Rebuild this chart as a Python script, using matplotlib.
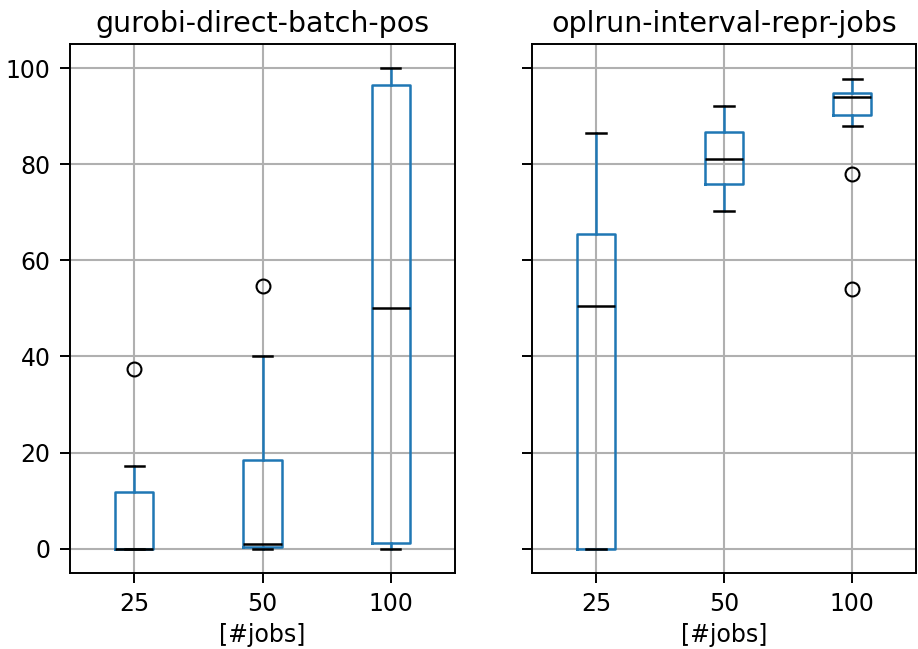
import matplotlib
matplotlib.use("Agg")
import matplotlib.pyplot as plt

# values (percent)
jobs = ["25", "50", "100"]
panels = ["gurobi-direct-batch-pos", "oplrun-interval-repr-jobs"]

# per panel: whisker low, q1, median, q3, whisker high, outliers
gurobi_wlo = [0.0, 0.0, 0.0]
gurobi_q1 = [0.0, 0.3, 1.2]
gurobi_med = [0.0, 0.9, 50.0]
gurobi_q3 = [11.7, 18.4, 96.5]
gurobi_whi = [17.2, 40.0, 100.0]
gurobi_fliers = [[37.3], [54.6], []]

oplrun_wlo = [0.0, 70.2, 88.0]
oplrun_q1 = [0.0, 75.8, 90.3]
oplrun_med = [50.4, 81.0, 94.0]
oplrun_q3 = [65.4, 86.7, 94.9]
oplrun_whi = [86.4, 92.0, 97.7]
oplrun_fliers = [[], [], [77.9, 54.0]]

yticks = [0, 20, 40, 60, 80, 100]


def make_stats(wlo, q1, med, q3, whi, fliers):
    return [
        {"whislo": a, "q1": b, "med": c, "q3": d, "whishi": e, "fliers": f, "label": lab}
        for a, b, c, d, e, f, lab in zip(wlo, q1, med, q3, whi, fliers, jobs)
    ]


stats = [
    make_stats(gurobi_wlo, gurobi_q1, gurobi_med, gurobi_q3, gurobi_whi, gurobi_fliers),
    make_stats(oplrun_wlo, oplrun_q1, oplrun_med, oplrun_q3, oplrun_whi, oplrun_fliers),
]

blue = "#1f77b4"
lw = 1.8

fig = plt.figure(figsize=(9.18, 6.49), dpi=100)
ax1 = fig.add_axes([0.0763, 0.1176, 0.4193, 0.8146])
ax2 = fig.add_axes([0.5795, 0.1176, 0.4185, 0.8146], sharey=ax1)

for ax, title, st in zip([ax1, ax2], panels, stats):
    ax.bxp(
        st,
        widths=0.3,
        boxprops=dict(color=blue, linewidth=lw),
        whiskerprops=dict(color=blue, linewidth=lw),
        capprops=dict(color="black", linewidth=lw),
        medianprops=dict(color="black", linewidth=lw),
        flierprops=dict(marker="o", markerfacecolor="none",
                        markeredgecolor="black", markersize=10, markeredgewidth=1.5),
    )
    ax.set_title(title, fontsize=20.5, pad=9)
    ax.set_xlabel("[#jobs]", fontsize=17, labelpad=5)
    ax.grid(True, color="#b0b0b0", linewidth=1.5)
    ax.set_axisbelow(True)
    ax.tick_params(labelsize=17, length=7, width=1.4, pad=7)
    for sp in ax.spines.values():
        sp.set_linewidth(1.4)

ax1.set_yticks(yticks)
ax1.set_ylim(-5, 105)
ax2.tick_params(labelleft=False)

fig.savefig("out.png", dpi=100)
